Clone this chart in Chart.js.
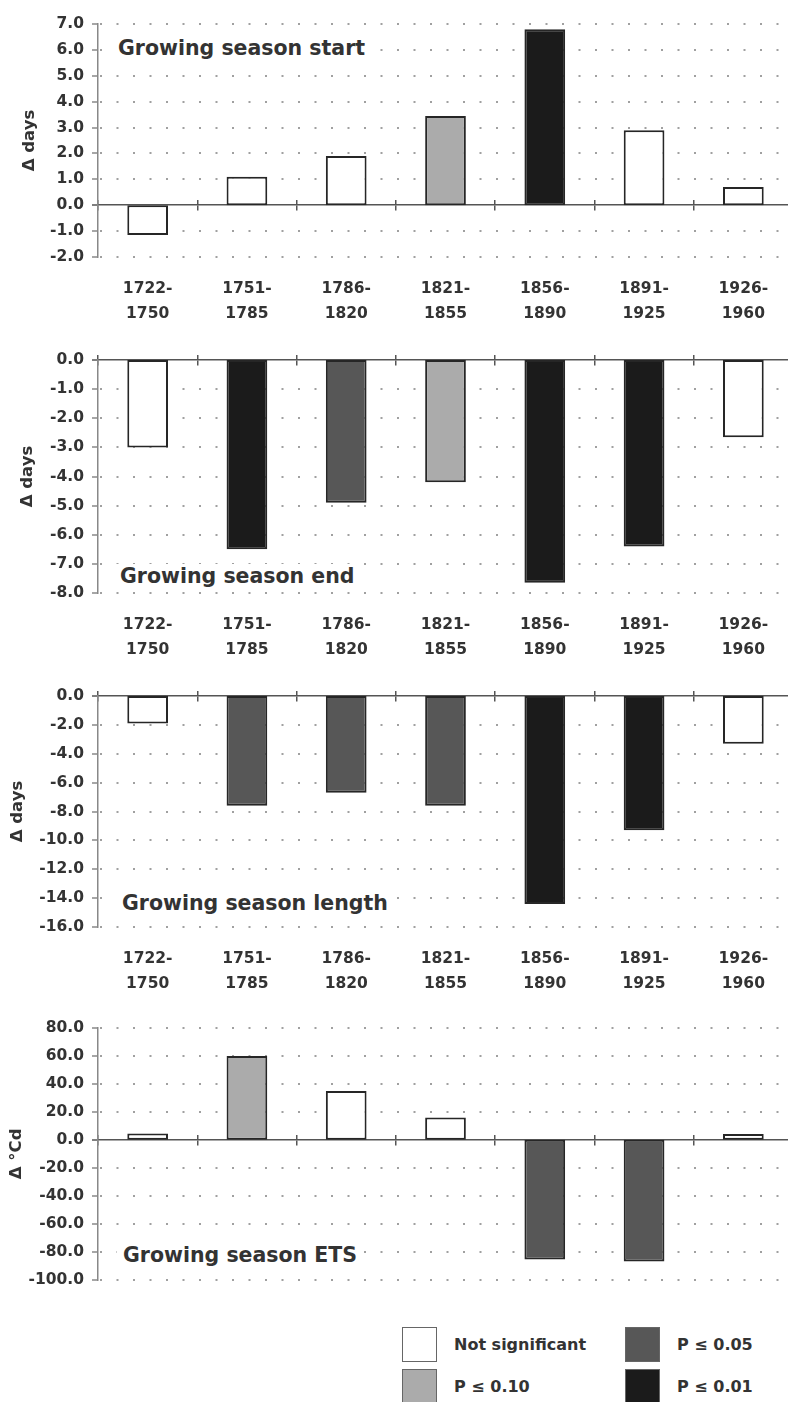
<!DOCTYPE html>
<html>
<head>
<meta charset="utf-8">
<script src="https://cdn.jsdelivr.net/npm/chart.js@4"></script>
<style>
  html, body { margin: 0; padding: 0; background: #fff; overflow: hidden; }
  body { position: relative; width: 788px; height: 1402px; font-family: "DejaVu Sans", sans-serif; }
  .panel { position: absolute; left: 0; }
  .panel canvas { display: block; }
  .tag {
    position: absolute; z-index: 2; background: #fff; color: #333;
    font-weight: bold; font-size: 20.5px; line-height: 24px;
    padding: 0 6px; white-space: nowrap;
  }
  #legend {
    position: absolute; left: 402px; top: 1327px; z-index: 2;
    display: grid; grid-template-columns: 223px 160px; grid-template-rows: 42px 42px;
    grid-auto-flow: column;
  }
  .item { display: flex; align-items: flex-start; }
  .box { width: 33px; height: 33px; border: 1.5px solid #666; flex: none; }
  .item span {
    margin-left: 17px; margin-top: 8px; color: #333; font-weight: bold;
    font-size: 16px; line-height: 20px; white-space: nowrap;
  }
</style>
</head>
<body>

<div class="panel" style="top:0px"><canvas id="start" width="800" height="330"></canvas></div>
<div class="panel" style="top:336px"><canvas id="end" width="800" height="330"></canvas></div>
<div class="panel" style="top:672px"><canvas id="length" width="800" height="328"></canvas></div>
<div class="panel" style="top:1004px"><canvas id="ets" width="800" height="293"></canvas></div>

<div class="tag" style="left:112px; top:36px">Growing season start</div>
<div class="tag" style="left:114px; top:564px">Growing season end</div>
<div class="tag" style="left:116px; top:891px">Growing season length</div>
<div class="tag" style="left:117px; top:1243px">Growing season ETS</div>

<div id="legend"></div>

<script>
// periods
const categories = [
    ['1722-', '1750'], ['1751-', '1785'], ['1786-', '1820'], ['1821-', '1855'],
    ['1856-', '1890'], ['1891-', '1925'], ['1926-', '1960']
];

// significance classes: 0 = not significant, 1 = P<=0.10, 2 = P<=0.05, 3 = P<=0.01
const sigLabels = ['Not significant', 'P \u2264 0.10', 'P \u2264 0.05', 'P \u2264 0.01'];
const sigColors = ['#ffffff', '#ababab', '#575757', '#1b1b1b'];

// change in days / degree days
const startValues = [-1.15, 1.1, 1.9, 3.45, 6.8, 2.9, 0.7];
const startSig = [0, 0, 0, 1, 3, 0, 0];
const endValues = [-3.0, -6.5, -4.9, -4.2, -7.65, -6.4, -2.65];
const endSig = [0, 3, 2, 1, 3, 3, 0];
const lengthValues = [-1.9, -7.6, -6.7, -7.6, -14.4, -9.3, -3.3];
const lengthSig = [0, 2, 2, 2, 3, 3, 0];
const etsValues = [4.5, 60, 35, 16, -85.5, -87, 4.2];
const etsSig = [0, 1, 0, 0, 2, 2, 0];

// y axis ranges: [min, max, step]
const startRange = [-2, 7, 1];
const endRange = [-8, 0, 1];
const lengthRange = [-16, 0, 2];
const etsRange = [-100, 80, 20];

const textColor = '#333';
const tickFont = { family: 'DejaVu Sans', weight: 'bold', size: 15.5 };

function isZero(ctx) {
    return ctx.tick && ctx.tick.value === 0;
}

// dotted grid rows (the zero line comes from the zero axis)
function dotted(ctx) {
    if (ctx.type === 'tick' && ctx.tick && ctx.tick.value !== 0) {
        return [2, 14.5];
    }
    return [];
}

function zeroAxis(len, drawLine) {
    return {
        type: 'category',
        axis: 'x',
        position: { y: 0 },
        offset: true,
        grid: {
            offset: true,
            drawOnChartArea: false,
            tickLength: len,
            color: '#555',
            lineWidth: 1.5
        },
        border: { display: drawLine, color: '#555', width: 1.5 },
        ticks: { display: false }
    };
}

function MakePanel(id, values, sig, range, yTitle, titlePad, showLabels, xHeight) {
    const data = {
        labels: categories,
        datasets: [{
            data: values,
            backgroundColor: sig.map(s => sigColors[s]),
            borderColor: '#262626',
            borderWidth: 2,
            borderSkipped: false,
            barPercentage: 0.41,
            categoryPercentage: 1
        }]
    };

    const config = {
        type: 'bar',
        data: data,
        options: {
            responsive: false,
            animation: false,
            layout: { padding: { top: 24, right: 7, bottom: 0, left: 0 } },
            plugins: {
                legend: { display: false },
                tooltip: { enabled: false }
            },
            scales: {
                x: {
                    grid: { display: false, drawTicks: false },
                    border: { display: false },
                    ticks: {
                        display: showLabels,
                        padding: 20,
                        maxRotation: 0,
                        autoSkip: false,
                        color: textColor,
                        font: { family: 'DejaVu Sans', weight: 'bold', size: 15.5, lineHeight: 1.6 }
                    },
                    afterFit: function (scale) {
                        scale.height = xHeight;
                    }
                },
                zUp: zeroAxis(-5, false),
                zDown: zeroAxis(5, true),
                y: {
                    min: range[0],
                    max: range[1],
                    ticks: {
                        stepSize: range[2],
                        padding: 8,
                        color: textColor,
                        font: tickFont,
                        callback: function (value) {
                            return value.toFixed(1);
                        }
                    },
                    grid: {
                        color: '#a0a0a0',
                        lineWidth: ctx => isZero(ctx) ? 0 : 2,
                        tickLength: 6,
                        tickWidth: 1.5,
                        tickColor: ctx => isZero(ctx) ? '#555' : '#888',
                        tickBorderDash: []
                    },
                    border: {
                        color: '#888',
                        width: 1.5,
                        dash: dotted,
                        dashOffset: 15
                    },
                    title: {
                        display: true,
                        text: yTitle,
                        color: textColor,
                        padding: { top: titlePad, bottom: 0 },
                        font: { family: 'DejaVu Sans', weight: 'bold', size: 16.5 }
                    },
                    afterFit: function (scale) {
                        scale.width = 98;
                    }
                }
            }
        }
    };
    return new Chart(document.getElementById(id), config);
}

MakePanel('start', startValues, startSig, startRange, '\u0394 days', 20, true, 73);
MakePanel('end', endValues, endSig, endRange, '\u0394 days', 18, true, 73);
MakePanel('length', lengthValues, lengthSig, lengthRange, '\u0394 days', 8, true, 73);
MakePanel('ets', etsValues, etsSig, etsRange, '\u0394 \u00b0Cd', 7, false, 10);

// legend, column by column
const legend = document.getElementById('legend');
for (let i = 0; i < sigLabels.length; i++) {
    const item = document.createElement('div');
    item.className = 'item';
    const box = document.createElement('div');
    box.className = 'box';
    box.style.background = sigColors[i];
    const text = document.createElement('span');
    text.textContent = sigLabels[i];
    item.appendChild(box);
    item.appendChild(text);
    legend.appendChild(item);
}
</script>
</body>
</html>
